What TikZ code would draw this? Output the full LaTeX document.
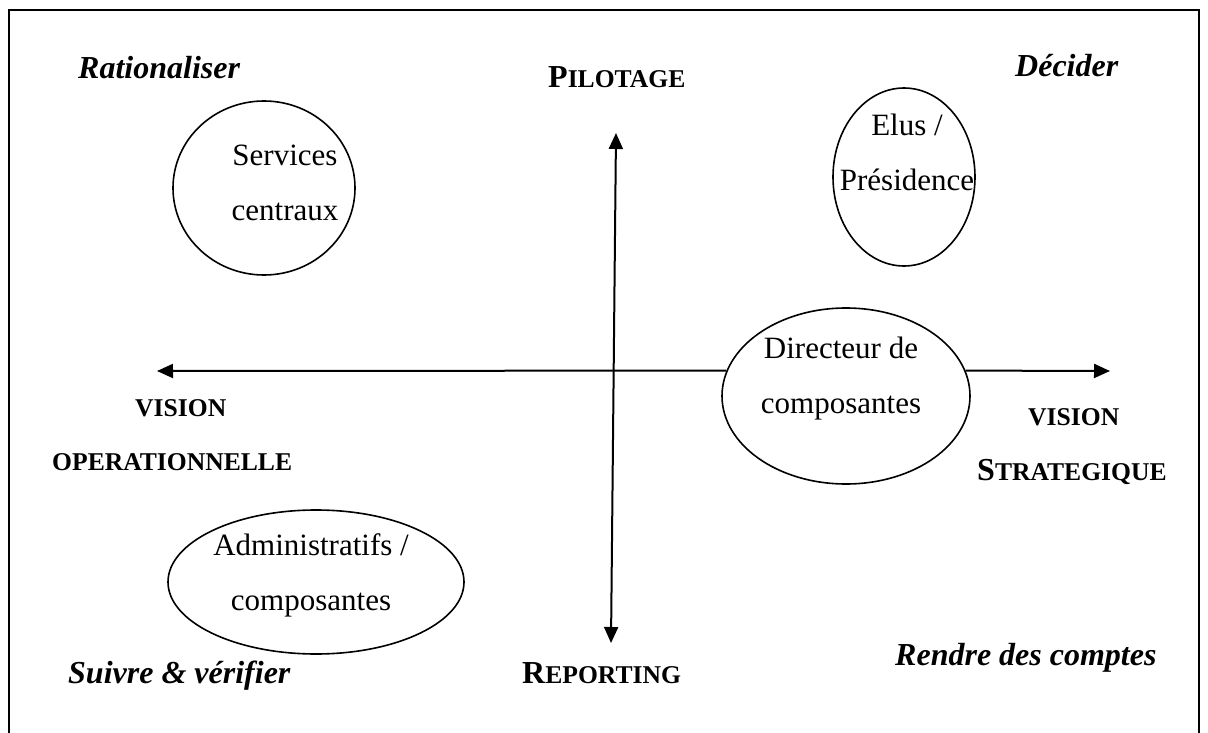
\documentclass[tikz,border=0pt]{standalone}
\usepackage{fontspec}
\setmainfont{Liberation Serif}
\usetikzlibrary{arrows.meta,shapes.geometric}
\newcommand{\bigsz}{\fontsize{32pt}{36pt}\selectfont}
\newcommand{\smsz}{\fontsize{25.6pt}{30pt}\selectfont}
\newcommand{\fakesc}[2]{{\bfseries\bigsz #1\smsz #2}}
\begin{document}
\begin{tikzpicture}[x=1pt,y=-1pt,
  frame/.style={line width=2pt},
  axis/.style={line width=2pt,{Triangle[length=16pt,width=14pt]}-{Triangle[length=16pt,width=14pt]}},
  oneway/.style={line width=2pt,-{Triangle[length=16pt,width=14pt]}},
  ell/.style={draw,ellipse,line width=1.6pt,inner sep=0pt},
  etxt/.style={align=center,font=\fontsize{31pt}{55pt}\selectfont,inner sep=0pt},
  itl/.style={font=\bfseries\itshape\fontsize{32pt}{36pt}\selectfont,anchor=base west,inner sep=0pt},
  bld/.style={anchor=base west,inner sep=0pt}]
\useasboundingbox (0,0) rectangle (1208,733);
\draw[frame] (9,734) -- (9,10) -- (1199,10) -- (1199,734);

% ellipses
\node[ell,minimum width=182pt,minimum height=174pt] (sc) at (264,188) {};
\node[ell,minimum width=142pt,minimum height=178pt] (ep) at (904,177) {};
\node[ell,minimum width=248pt,minimum height=176pt] (dc) at (846,396) {};
\node[ell,minimum width=296pt,minimum height=144pt] (ad) at (316,582) {};

% text anchored at the baseline of the last line
\node[etxt,anchor=base] (tsc) at (285,220) {Services\\centraux};
\node[etxt,anchor=base] (tep) at (907,190) {Elus /\\Présidence};
\node[etxt,anchor=base] (tdc) at (841,413) {Directeur de\\composantes};
\node[etxt,anchor=base] (tad) at (311,610) {Administratifs /\\composantes};

% axes
\coordinate (top) at (616,133);
\coordinate (bot) at (611,643);
\coordinate (left) at (157,371);
\coordinate (right) at (1110,371);
\draw[axis] (top) -- (bot);
\draw[oneway] (dc.168) -- (left);
\draw[oneway] (dc.12) -- (right);

% labels
\node[itl] (rat) at (78,79) {Rationaliser};
\node[itl] (dec) at (1015,77) {Décider};
\node[itl] (suv) at (68,683) {Suivre \& vérifier};
\node[itl] (ren) at (895,665) {Rendre des comptes};

\node[bld] (pil) at (548,88) {\fakesc{P}{ILOTAGE}};
\node[bld] (rep) at (522,683) {\fakesc{R}{EPORTING}};
\node[bld] (vo1) at (135,416) {\fakesc{}{VISION}};
\node[bld] (vo2) at (52,470) {\fakesc{}{OPERATIONNELLE}};
\node[bld] (vs1) at (1028,425) {\fakesc{}{VISION}};
\node[bld] (vs2) at (977,480) {\fakesc{S}{TRATEGIQUE}};
\end{tikzpicture}
\end{document}
